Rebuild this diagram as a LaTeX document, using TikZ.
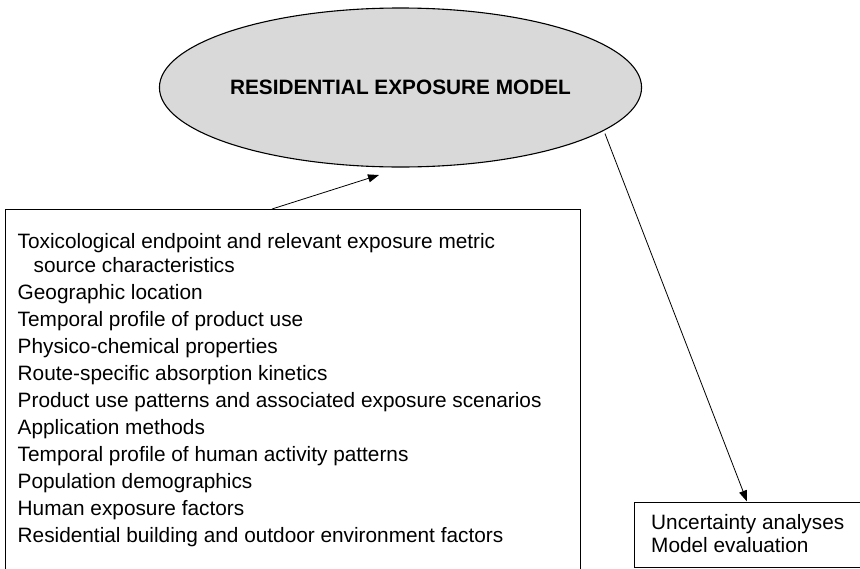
\documentclass[tikz,border=0pt]{standalone}
\usepackage{fontspec}
\setmainfont{Liberation Sans}
\usetikzlibrary{shapes.geometric,arrows.meta}
\definecolor{modelgray}{HTML}{D9D9D9}
\begin{document}
\begin{tikzpicture}[x=1pt,y=-1pt,
  model/.style={ellipse, draw, line width=1.1pt, fill=modelgray,
    minimum width=477pt, minimum height=159pt, inner sep=0pt,
    font=\fontsize{20.8}{24}\selectfont\bfseries},
  listbox/.style={draw, line width=1pt, rectangle, inner sep=0pt},
  item/.style={anchor=base west, inner sep=0pt,
    font=\fontsize{20.8}{24}\selectfont},
  link/.style={-{Triangle[length=11pt,width=8pt]}, line width=0.8pt}]
\useasboundingbox (0,0) rectangle (860,568);
\clip (0,0) rectangle (860,568);

% central model
\node[model] (model) at (400.5,87.5) {RESIDENTIAL EXPOSURE MODEL};

% input box (runs past the lower edge)
\node[listbox, anchor=north west, minimum width=575.4pt, minimum height=420pt]
  (inputs) at (4.6,209) {};
% output box (runs past the right edge)
\node[listbox, anchor=north west, minimum width=260pt, minimum height=65pt]
  (checks) at (633.5,501.5) {};

% input list
\node[item] (i1)  at (17.5,248) {Toxicological endpoint and relevant exposure metric};
\node[item] (i2)  at (33.5,272.5) {source characteristics};
\node[item] (i3)  at (17.5,299.5) {Geographic location};
\node[item] (i4)  at (17.5,326.5) {Temporal profile of product use};
\node[item] (i5)  at (17.5,353.5) {Physico-chemical properties};
\node[item] (i6)  at (17.5,380.5) {Route-specific absorption kinetics};
\node[item] (i7)  at (17.5,407.5) {Product use patterns and associated exposure scenarios};
\node[item] (i8)  at (17.5,434.5) {Application methods};
\node[item] (i9)  at (17.5,461.5) {Temporal profile of human activity patterns};
\node[item] (i10) at (17.5,488.5) {Population demographics};
\node[item] (i11) at (17.5,515.5) {Human exposure factors};
\node[item] (i12) at (17.5,542.5) {Residential building and outdoor environment factors};

% output list
\node[item] (o1) at (651,529) {Uncertainty analyses};
\node[item] (o2) at (651,552) {Model evaluation};

% connectors
\path (inputs.north west) ++(267.4,0) coordinate (inOut);
\coordinate (modelIn) at (379,175);
\draw[link] (inOut) -- (modelIn);

\path (checks.north west) ++(113.5,0) coordinate (checksIn);
\draw[link, shorten <=3pt] (model.-12) -- (checksIn);
\end{tikzpicture}
\end{document}
